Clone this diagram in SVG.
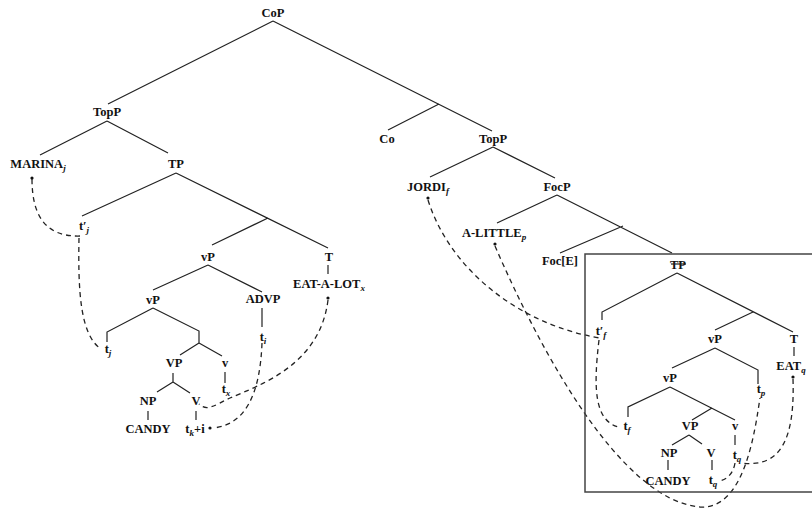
<svg xmlns="http://www.w3.org/2000/svg" width="812" height="508" viewBox="0 0 812 508">
<style>
text{font-family:"Liberation Serif","Times New Roman",serif;font-size:12.5px;font-weight:bold;fill:#111;text-anchor:middle}
.s{font-size:9px;font-style:italic}
.e{stroke:#222;stroke-width:1.2;fill:none}
.d{stroke:#222;stroke-width:1.3;fill:none;stroke-dasharray:5 4}
.box{stroke:#444;stroke-width:1.5;fill:none}
.dot{fill:#111}
</style>
<rect width="812" height="508" fill="#fff"/>
<g id="connectors">
<path class="e" d="M273 21L108 104M273 21L492 131M439 104L388 130
M107 121L40 155M107 121L168 153
M176 173L82 216M176 173L328 248M268 218L212 245
M208 265L153 290M208 265L262 292
M153 308L107 332V342M153 308L199 331V343M199 343L180 355M199 343L222 356
M173 373V382M173 382L157 392M173 382L190 393
M225 372V383M262 308V327M328 265V274M148 411V420M196 411V420
M493 147L430 177M493 147L555 178
M557 195L497 223M557 195L672 253M623 226L560 253
M677 273L602 312V320M677 273L793 332M753 312L715 330
M715 348L672 368M715 348L758 370V384
M670 387L628 407V417M670 387L735 420M712 408L692 420
M689 435L672 445M689 435L702 444
M794 347V356M735 435V445M668 460V470M712 460V470"/>
<path class="d" d="M32 179C32 215 45 237 80 236"/>
<path class="d" d="M79 238C78 290 80 335 101 349"/>
<path class="d" d="M328 300C320 365 260 385 230 398C215 405 207 412 199 404"/>
<path class="d" d="M262 343C260 395 245 425 213 428"/>
<path class="d" d="M428 200C450 270 520 325 600 338"/>
<path class="d" d="M599 340C593 390 595 420 618 427"/>
<path class="d" d="M495 246C540 350 620 500 700 507C745 510 755 430 760 398"/>
<path class="d" d="M793 379C795 440 780 468 742 463"/>
<path class="d" d="M735 463C733 475 725 481 718 481"/>
</g>
<path id="ellipsis-box" class="box" d="M812 254H585V492H812"/>
<g id="CoP"><text x="273" y="17">CoP</text></g>
<g id="TopP1"><text x="107" y="116">TopP</text></g>
<g id="Co"><text x="387" y="143">Co</text></g>
<g id="TopP2"><text x="493" y="143">TopP</text></g>
<g id="MARINA"><text x="38" y="168">MARINA<tspan class="s" dy="3">j</tspan></text><circle class="dot" cx="32" cy="178" r="1.6"/></g>
<g id="TP1"><text x="176" y="168">TP</text></g>
<g id="t1j"><text x="84" y="230">t′<tspan class="s" dy="3">j</tspan></text></g>
<g id="vP1"><text x="208" y="261">vP</text></g>
<g id="T1"><text x="329" y="261">T</text></g>
<g id="EATALOT"><text x="329" y="288">EAT-A-LOT<tspan class="s" dy="3">x</tspan></text><circle class="dot" cx="328" cy="298" r="1.6"/></g>
<g id="vP2"><text x="153" y="304">vP</text></g>
<g id="ADVP"><text x="263" y="303">ADVP</text></g>
<g id="ti"><text x="263" y="341">t<tspan class="s" dy="3">i</tspan></text></g>
<g id="tj"><text x="108" y="353">t<tspan class="s" dy="3">j</tspan></text></g>
<g id="VP1"><text x="174" y="367">VP</text></g>
<g id="v1"><text x="225" y="367">v</text></g>
<g id="tx"><text x="226" y="393">t<tspan class="s" dy="3">x</tspan></text></g>
<g id="NP1"><text x="148" y="405">NP</text></g>
<g id="V1"><text x="196" y="405">V</text></g>
<g id="CANDY1"><text x="148" y="433">CANDY</text></g>
<g id="tki"><text x="195" y="433">t<tspan class="s" dy="3">k</tspan><tspan dy="-3">+i</tspan></text><circle class="dot" cx="210" cy="428" r="1.6"/></g>
<g id="JORDI"><text x="428" y="191">JORDI<tspan class="s" dy="3">f</tspan></text><circle class="dot" cx="428" cy="198" r="1.6"/></g>
<g id="FocP"><text x="557" y="191">FocP</text></g>
<g id="ALITTLE"><text x="494" y="237">A-LITTLE<tspan class="s" dy="3">p</tspan></text><circle class="dot" cx="495" cy="244" r="1.6"/></g>
<g id="FocE"><text x="560" y="265">Foc[E]</text></g>
<g id="TP2"><text x="678" y="269">TP</text><line class="e" x1="671" y1="264" x2="686" y2="264"/></g>
<g id="t1f"><text x="601" y="335">t′<tspan class="s" dy="3">f</tspan></text></g>
<g id="vP3"><text x="715" y="343">vP</text></g>
<g id="T2"><text x="794" y="343">T</text></g>
<g id="EATq"><text x="791" y="370">EAT<tspan class="s" dy="3">q</tspan></text><circle class="dot" cx="793" cy="377" r="1.6"/></g>
<g id="vP4"><text x="670" y="382">vP</text></g>
<g id="tp"><text x="761" y="393">t<tspan class="s" dy="3">p</tspan></text></g>
<g id="tf"><text x="627" y="430">t<tspan class="s" dy="3">f</tspan></text></g>
<g id="VP2"><text x="690" y="430">VP</text></g>
<g id="v2"><text x="735" y="430">v</text></g>
<g id="NP2"><text x="669" y="457">NP</text></g>
<g id="V2"><text x="711" y="457">V</text></g>
<g id="tq1"><text x="737" y="459">t<tspan class="s" dy="3">q</tspan></text></g>
<g id="CANDY2"><text x="668" y="485">CANDY</text></g>
<g id="tq2"><text x="713" y="484">t<tspan class="s" dy="3">q</tspan></text></g>
</svg>
